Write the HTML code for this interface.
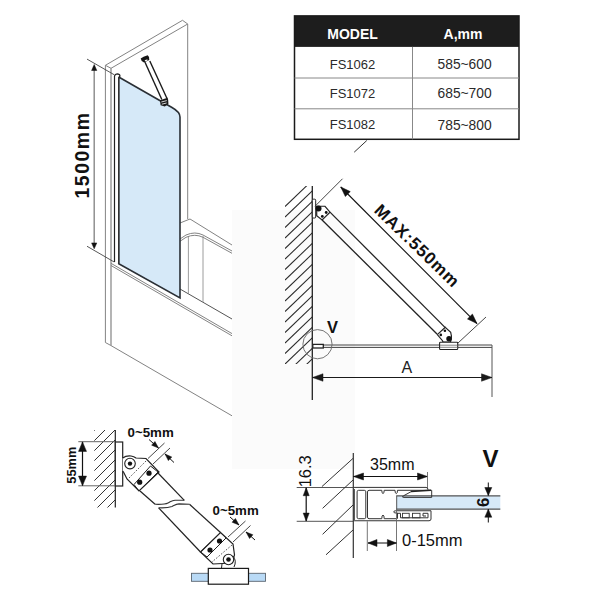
<!DOCTYPE html>
<html><head><meta charset="utf-8"><style>
html,body{margin:0;padding:0;background:#fff;}
svg{display:block;font-family:"Liberation Sans",sans-serif;}
</style></head><body>
<svg width="600" height="600" viewBox="0 0 600 600">
<rect x="0" y="0" width="600" height="600" fill="#fff"/>
<rect x="232" y="210" width="123" height="259" fill="#fbfbfb"/>
<line x1="105.40" y1="65.30" x2="105.40" y2="342.50" stroke="#838383" stroke-width="1" />
<line x1="111.00" y1="68.30" x2="111.00" y2="345.40" stroke="#838383" stroke-width="1.2" />
<polyline points="105.40,65.30 182.50,20.30 187.70,24.00 111.00,68.30 105.40,65.30" fill="none" stroke="#838383" stroke-width="1" />
<line x1="187.70" y1="24.00" x2="187.70" y2="219.00" stroke="#838383" stroke-width="1" />
<polyline points="105.40,342.50 110.70,345.40 232.00,415.80" fill="none" stroke="#838383" stroke-width="1" />
<line x1="111.00" y1="263.30" x2="232.00" y2="333.60" stroke="#838383" stroke-width="1" />
<line x1="111.00" y1="265.50" x2="232.00" y2="335.80" stroke="#838383" stroke-width="1" />
<line x1="180.00" y1="289.00" x2="232.00" y2="319.00" stroke="#555" stroke-width="1" />
<polyline points="180.00,223.00 190.00,219.00 232.00,245.00" fill="none" stroke="#838383" stroke-width="1" />
<path d="M180,239 L186,235 Q195,231 203,235 L232,251" fill="none" stroke="#838383" stroke-width="1"/>
<path d="M180,241.3 L186,237.3 Q195,233.3 203,237.3 L232,253.3" fill="none" stroke="#838383" stroke-width="1"/>
<line x1="188.40" y1="236.00" x2="188.40" y2="294.00" stroke="#838383" stroke-width="0.8" />
<line x1="203.00" y1="236.00" x2="203.00" y2="302.00" stroke="#838383" stroke-width="0.8" />
<path d="M118.7,77 L172,107.5 Q180,112 180,117 L180,298 L118.75,263.75 Z" fill="#d6e9f8" stroke="#2a2f35" stroke-width="1.6"/>
<path d="M114.5,262 L114.5,76 Q115,74 117.2,73.9 Q119.8,74 120,76 L118.7,77.5 L118.7,263" fill="#fff" stroke="#222" stroke-width="1.2"/>
<line x1="144.90" y1="62.00" x2="161.80" y2="99.50" stroke="#1a1a1a" stroke-width="1.4" />
<line x1="149.80" y1="61.00" x2="167.00" y2="98.50" stroke="#1a1a1a" stroke-width="1.4" />
<path d="M140.7,58.6 Q143,56.5 147.7,55.3 Q149.5,56.5 149.3,60 L144,62.6 Q141,61.5 140.7,58.6 Z" fill="#151515"/>
<ellipse cx="146.2" cy="60.3" rx="1.6" ry="0.7" fill="#fff" transform="rotate(-20 146.2 60.3)"/>
<path d="M160,100.2 L167.6,97.8 Q168.6,100 168.4,104 L164.8,106.4 L160.6,105.2 Z" fill="#1a1a1a"/>
<line x1="161.30" y1="102.00" x2="166.80" y2="100.60" stroke="#fff" stroke-width="0.8" />
<line x1="161.80" y1="104.20" x2="166.60" y2="103.00" stroke="#fff" stroke-width="0.8" />
<line x1="94.20" y1="66.00" x2="94.20" y2="247.00" stroke="#888" stroke-width="1.4" />
<polygon points="94.20,64.50 96.80,70.50 91.60,70.50" fill="#111" stroke="#111" stroke-width="0.5" />
<polygon points="94.20,248.75 91.60,242.95 96.80,242.95" fill="#111" stroke="#111" stroke-width="0.5" />
<line x1="87.00" y1="59.10" x2="114.30" y2="74.80" stroke="#444" stroke-width="0.9" />
<line x1="87.00" y1="246.25" x2="114.20" y2="262.00" stroke="#444" stroke-width="0.9" />
<text x="89.30" y="155.00" font-size="19.5" font-weight="bold" text-anchor="middle" fill="#111" transform="rotate(-90 89.30 155.00)" letter-spacing="1.5">1500mm</text>
<rect x="294.5" y="15.9" width="224.5" height="31" fill="#1d1d1d"/>
<rect x="294.5" y="15.9" width="224.5" height="123.4" fill="none" stroke="#1a1a1a" stroke-width="1.5"/>
<line x1="294.50" y1="78.00" x2="519.00" y2="78.00" stroke="#888" stroke-width="1" />
<line x1="294.50" y1="108.80" x2="519.00" y2="108.80" stroke="#888" stroke-width="1" />
<line x1="412.50" y1="46.90" x2="412.50" y2="139.30" stroke="#888" stroke-width="1" />
<text x="352.50" y="39.20" font-size="14" font-weight="bold" text-anchor="middle" fill="#fff" >MODEL</text>
<text x="463.00" y="39.20" font-size="14" font-weight="bold" text-anchor="middle" fill="#fff" >A,mm</text>
<text x="352.50" y="68.80" font-size="13" font-weight="normal" text-anchor="middle" fill="#2a2a2a" >FS1062</text>
<text x="464.60" y="69.10" font-size="13.8" font-weight="normal" text-anchor="middle" fill="#2a2a2a" >585~600</text>
<text x="352.50" y="97.80" font-size="13" font-weight="normal" text-anchor="middle" fill="#2a2a2a" >FS1072</text>
<text x="464.60" y="98.10" font-size="13.8" font-weight="normal" text-anchor="middle" fill="#2a2a2a" >685~700</text>
<text x="352.50" y="129.20" font-size="13" font-weight="normal" text-anchor="middle" fill="#2a2a2a" >FS1082</text>
<text x="464.60" y="129.50" font-size="13.8" font-weight="normal" text-anchor="middle" fill="#2a2a2a" >785~800</text>
<line x1="366.80" y1="140.50" x2="354.20" y2="152.20" stroke="#333" stroke-width="1" />
<clipPath id="h1"><rect x="285" y="186" width="27.30000000000001" height="178"/></clipPath>
<g clip-path="url(#h1)">
<line x1="285.00" y1="206.60" x2="312.30" y2="180.39" stroke="#2a2a2a" stroke-width="1.05" />
<line x1="285.00" y1="217.10" x2="312.30" y2="190.89" stroke="#2a2a2a" stroke-width="1.05" />
<line x1="285.00" y1="227.60" x2="312.30" y2="201.39" stroke="#2a2a2a" stroke-width="1.05" />
<line x1="285.00" y1="238.10" x2="312.30" y2="211.89" stroke="#2a2a2a" stroke-width="1.05" />
<line x1="285.00" y1="248.60" x2="312.30" y2="222.39" stroke="#2a2a2a" stroke-width="1.05" />
<line x1="285.00" y1="259.10" x2="312.30" y2="232.89" stroke="#2a2a2a" stroke-width="1.05" />
<line x1="285.00" y1="269.60" x2="312.30" y2="243.39" stroke="#2a2a2a" stroke-width="1.05" />
<line x1="285.00" y1="280.10" x2="312.30" y2="253.89" stroke="#2a2a2a" stroke-width="1.05" />
<line x1="285.00" y1="290.60" x2="312.30" y2="264.39" stroke="#2a2a2a" stroke-width="1.05" />
<line x1="285.00" y1="301.10" x2="312.30" y2="274.89" stroke="#2a2a2a" stroke-width="1.05" />
<line x1="285.00" y1="311.60" x2="312.30" y2="285.39" stroke="#2a2a2a" stroke-width="1.05" />
<line x1="285.00" y1="322.10" x2="312.30" y2="295.89" stroke="#2a2a2a" stroke-width="1.05" />
<line x1="285.00" y1="332.60" x2="312.30" y2="306.39" stroke="#2a2a2a" stroke-width="1.05" />
<line x1="285.00" y1="343.10" x2="312.30" y2="316.89" stroke="#2a2a2a" stroke-width="1.05" />
<line x1="285.00" y1="353.60" x2="312.30" y2="327.39" stroke="#2a2a2a" stroke-width="1.05" />
<line x1="285.00" y1="364.10" x2="312.30" y2="337.89" stroke="#2a2a2a" stroke-width="1.05" />
<line x1="285.00" y1="374.60" x2="312.30" y2="348.39" stroke="#2a2a2a" stroke-width="1.05" />
<line x1="285.00" y1="385.10" x2="312.30" y2="358.89" stroke="#2a2a2a" stroke-width="1.05" />
<line x1="285.00" y1="395.60" x2="312.30" y2="369.39" stroke="#2a2a2a" stroke-width="1.05" />
</g>
<line x1="312.30" y1="186.00" x2="312.30" y2="400.00" stroke="#222" stroke-width="1.3" />
<rect x="312.3" y="199.2" width="3.4" height="18.8" rx="1" fill="#fff" stroke="#222" stroke-width="1"/>
<line x1="330.00" y1="212.10" x2="445.00" y2="327.40" stroke="#222" stroke-width="1.3" />
<line x1="322.10" y1="220.00" x2="437.00" y2="334.00" stroke="#222" stroke-width="1.3" />
<polygon points="316.70,206.25 325.00,206.25 330.00,212.10 322.10,220.00 316.70,215.80" fill="#fff" stroke="#222" stroke-width="1.2" />
<line x1="330.00" y1="212.10" x2="322.10" y2="220.00" stroke="#333" stroke-width="0.9" stroke-dasharray="1.5,1.5"/>
<circle cx="318.5" cy="208.4" r="3" fill="#111"/>
<circle cx="326.2" cy="212.5" r="1.4" fill="#111"/>
<circle cx="322.3" cy="216.4" r="1.4" fill="#111"/>
<line x1="323.00" y1="345.00" x2="492.00" y2="345.00" stroke="#444" stroke-width="1" />
<line x1="323.00" y1="347.40" x2="492.00" y2="347.40" stroke="#444" stroke-width="1" />
<line x1="492.00" y1="345.00" x2="492.00" y2="397.00" stroke="#555" stroke-width="1" />
<path d="M437.3,334.6 L445.2,327.3 L450.7,332.3 Q451.8,336 451.3,339 L450.5,342 L443,342 L442.5,340.7 Z" fill="#fff" stroke="#222" stroke-width="1.2"/>
<line x1="437.30" y1="334.60" x2="445.20" y2="327.30" stroke="#333" stroke-width="1" stroke-dasharray="1.8,1.2"/>
<circle cx="449" cy="338.7" r="2.7" fill="#111"/>
<circle cx="444.9" cy="330.8" r="1.3" fill="#111"/>
<circle cx="440.8" cy="334.9" r="1.3" fill="#111"/>
<rect x="439.6" y="342.2" width="18.1" height="7.3" rx="0.8" fill="#fff" stroke="#222" stroke-width="1.1"/>
<line x1="440.00" y1="345.20" x2="457.50" y2="345.20" stroke="#777" stroke-width="0.9" />
<line x1="440.00" y1="347.30" x2="457.50" y2="347.30" stroke="#777" stroke-width="0.9" />
<rect x="312.8" y="344.4" width="10.5" height="3.6" fill="#fff" stroke="#222" stroke-width="1.3"/>
<rect x="315" y="345.4" width="3.5" height="1.6" fill="#fff" stroke="none"/>
<circle cx="317.5" cy="344.2" r="14.6" fill="none" stroke="#666" stroke-width="0.9"/>
<text x="327.00" y="333.00" font-size="16.5" font-weight="bold" text-anchor="start" fill="#111" >V</text>
<line x1="312.50" y1="377.50" x2="492.00" y2="377.50" stroke="#1a1a1a" stroke-width="1" />
<polygon points="492.00,377.50 481.50,381.25 481.50,373.75" fill="#1a1a1a" stroke="#1a1a1a" stroke-width="0.5" />
<polygon points="312.50,377.50 323.00,373.75 323.00,381.25" fill="#1a1a1a" stroke="#1a1a1a" stroke-width="0.5" />
<text x="401.50" y="372.80" font-size="16" font-weight="normal" text-anchor="start" fill="#222" >A</text>
<line x1="315.00" y1="206.25" x2="342.50" y2="178.75" stroke="#333" stroke-width="0.9" />
<line x1="458.00" y1="343.00" x2="486.00" y2="317.00" stroke="#333" stroke-width="0.9" />
<line x1="340.75" y1="187.00" x2="477.00" y2="323.60" stroke="#111" stroke-width="1.1" />
<polygon points="477.00,323.60 467.46,318.99 472.42,314.05" fill="#111" stroke="#111" stroke-width="0.5" />
<polygon points="340.75,187.00 350.29,191.61 345.33,196.55" fill="#111" stroke="#111" stroke-width="0.5" />
<text x="413.25" y="250.10" font-size="17" font-weight="bold" text-anchor="middle" fill="#111" transform="rotate(44 413.25 250.10)" letter-spacing="1">MAX:550mm</text>
<clipPath id="h2"><rect x="94.2" y="430" width="20.799999999999997" height="77.5"/></clipPath>
<g clip-path="url(#h2)">
<line x1="94.20" y1="420.80" x2="115.00" y2="400.00" stroke="#333" stroke-width="1.0" />
<line x1="94.20" y1="430.80" x2="115.00" y2="410.00" stroke="#333" stroke-width="1.0" />
<line x1="94.20" y1="440.80" x2="115.00" y2="420.00" stroke="#333" stroke-width="1.0" />
<line x1="94.20" y1="450.80" x2="115.00" y2="430.00" stroke="#333" stroke-width="1.0" />
<line x1="94.20" y1="460.80" x2="115.00" y2="440.00" stroke="#333" stroke-width="1.0" />
<line x1="94.20" y1="470.80" x2="115.00" y2="450.00" stroke="#333" stroke-width="1.0" />
<line x1="94.20" y1="480.80" x2="115.00" y2="460.00" stroke="#333" stroke-width="1.0" />
<line x1="94.20" y1="490.80" x2="115.00" y2="470.00" stroke="#333" stroke-width="1.0" />
<line x1="94.20" y1="500.80" x2="115.00" y2="480.00" stroke="#333" stroke-width="1.0" />
<line x1="94.20" y1="510.80" x2="115.00" y2="490.00" stroke="#333" stroke-width="1.0" />
<line x1="94.20" y1="520.80" x2="115.00" y2="500.00" stroke="#333" stroke-width="1.0" />
<line x1="94.20" y1="530.80" x2="115.00" y2="510.00" stroke="#333" stroke-width="1.0" />
</g>
<line x1="115.30" y1="430.00" x2="115.30" y2="507.50" stroke="#222" stroke-width="1.2" />
<rect x="115.3" y="442" width="7.4" height="44" fill="#fff" stroke="#222" stroke-width="1.2"/>
<line x1="78.30" y1="441.70" x2="115.00" y2="441.70" stroke="#666" stroke-width="1" />
<line x1="78.30" y1="485.80" x2="115.00" y2="485.80" stroke="#666" stroke-width="1" />
<line x1="82.50" y1="441.90" x2="82.50" y2="485.60" stroke="#111" stroke-width="1.2" />
<polygon points="82.50,485.60 78.50,476.10 86.50,476.10" fill="#111" stroke="#111" stroke-width="0.5" />
<polygon points="82.50,441.90 86.50,451.40 78.50,451.40" fill="#111" stroke="#111" stroke-width="0.5" />
<text x="75.60" y="465.20" font-size="12.8" font-weight="bold" text-anchor="middle" fill="#111" transform="rotate(-90 75.60 465.20)" >55mm</text>
<line x1="157.50" y1="472.50" x2="184.30" y2="500.30" stroke="#222" stroke-width="1.2" />
<line x1="140.00" y1="491.00" x2="155.10" y2="504.30" stroke="#222" stroke-width="1.2" />
<line x1="189.50" y1="504.30" x2="220.50" y2="532.50" stroke="#222" stroke-width="1.2" />
<line x1="158.60" y1="507.80" x2="200.50" y2="552.00" stroke="#222" stroke-width="1.2" />
<path d="M155.1,504.3 C160,504.5 165,504.5 168,503 C171,501.5 172,500.3 175,500.2 L184.3,500.3" fill="none" stroke="#333" stroke-width="1.1"/>
<path d="M158.6,507.8 C163,508 168,508 172,506.5 C175,505 176,504 179,503.9 L189.5,504.3" fill="none" stroke="#333" stroke-width="1.1"/>
<path d="M122.7,458 Q126,455.5 131,456 Q134,456.5 136,458 L146,458.5 L159,472 L139,491 L127,479 L123.5,472 L122.7,471" fill="#fff" stroke="#222" stroke-width="1.2"/>
<line x1="146.00" y1="461.00" x2="128.00" y2="479.00" stroke="#444" stroke-width="0.9" stroke-dasharray="1.6,1.6"/>
<polygon points="150.50,466.00 158.00,472.00 139.00,491.00 134.00,484.50" fill="none" stroke="#222" stroke-width="1.0" />
<circle cx="149" cy="473.2" r="2.6" fill="#111"/>
<circle cx="139.7" cy="482.2" r="2.6" fill="#111"/>
<circle cx="130" cy="463.6" r="5.3" fill="#fff" stroke="#222" stroke-width="1.1"/>
<circle cx="130" cy="463.6" r="2.2" fill="#111"/>
<line x1="148.00" y1="458.50" x2="164.50" y2="443.00" stroke="#333" stroke-width="0.9" />
<line x1="153.00" y1="464.00" x2="170.00" y2="448.00" stroke="#333" stroke-width="0.9" />
<line x1="149.00" y1="439.50" x2="158.50" y2="448.00" stroke="#111" stroke-width="1" />
<polygon points="158.50,448.00 151.62,445.20 154.95,441.47" fill="#111" stroke="#111" stroke-width="0.5" />
<line x1="174.00" y1="462.50" x2="165.00" y2="454.00" stroke="#111" stroke-width="1" />
<polygon points="165.00,454.00 171.81,456.99 168.37,460.62" fill="#111" stroke="#111" stroke-width="0.5" />
<text x="127.50" y="437.00" font-size="13.3" font-weight="bold" text-anchor="start" fill="#111" >0~5mm</text>
<path d="M220.5,532.5 L233,544 L234.5,555 L232,563 L213,564 L200.5,552 Z" fill="#fff" stroke="#222" stroke-width="1.2"/>
<line x1="232.00" y1="545.00" x2="212.00" y2="562.00" stroke="#444" stroke-width="0.9" stroke-dasharray="1.6,1.6"/>
<polygon points="220.50,532.50 226.00,538.00 207.00,557.00 200.50,552.00" fill="none" stroke="#222" stroke-width="1.0" />
<circle cx="219.5" cy="541" r="2.6" fill="#111"/>
<circle cx="210" cy="550" r="2.6" fill="#111"/>
<path d="M233,556 Q237,561 234,567" fill="none" stroke="#222" stroke-width="1"/>
<line x1="222.00" y1="564.00" x2="221.50" y2="568.00" stroke="#222" stroke-width="1" />
<circle cx="228.5" cy="559.5" r="5.2" fill="#fff" stroke="#222" stroke-width="1.1"/>
<circle cx="228.5" cy="559.5" r="2.3" fill="#111"/>
<rect x="191.5" y="573.3" width="17" height="8" fill="#b9daf6" stroke="#5a6570" stroke-width="0.9"/>
<rect x="248.5" y="573.3" width="17" height="8" fill="#b9daf6" stroke="#5a6570" stroke-width="0.9"/>
<rect x="208.3" y="568.4" width="40.2" height="15.8" fill="#fff" stroke="#1a1a1a" stroke-width="1.2"/>
<line x1="228.00" y1="537.00" x2="245.50" y2="521.00" stroke="#333" stroke-width="0.9" />
<line x1="233.00" y1="542.00" x2="250.50" y2="525.50" stroke="#333" stroke-width="0.9" />
<line x1="230.00" y1="517.00" x2="239.00" y2="525.00" stroke="#111" stroke-width="1" />
<polygon points="239.00,525.00 232.11,522.22 235.43,518.48" fill="#111" stroke="#111" stroke-width="0.5" />
<line x1="255.00" y1="540.00" x2="246.00" y2="532.00" stroke="#111" stroke-width="1" />
<polygon points="246.00,532.00 252.89,534.78 249.57,538.52" fill="#111" stroke="#111" stroke-width="0.5" />
<text x="212.50" y="515.40" font-size="13.3" font-weight="bold" text-anchor="start" fill="#111" >0~5mm</text>
<text x="311.30" y="471.25" font-size="16.5" font-weight="normal" text-anchor="middle" fill="#111" transform="rotate(-90 311.30 471.25)" >16.3</text>
<line x1="296.70" y1="487.50" x2="353.00" y2="487.50" stroke="#555" stroke-width="1" />
<line x1="296.70" y1="521.30" x2="353.00" y2="521.30" stroke="#555" stroke-width="1" />
<line x1="306.20" y1="487.70" x2="306.20" y2="521.10" stroke="#111" stroke-width="1.2" />
<polygon points="306.20,521.10 303.20,513.10 309.20,513.10" fill="#111" stroke="#111" stroke-width="0.5" />
<polygon points="306.20,487.70 309.20,495.70 303.20,495.70" fill="#111" stroke="#111" stroke-width="0.5" />
<line x1="321.90" y1="486.60" x2="353.00" y2="458.40" stroke="#333" stroke-width="1" />
<line x1="322.60" y1="508.30" x2="353.00" y2="480.00" stroke="#333" stroke-width="1" />
<line x1="322.60" y1="534.30" x2="353.00" y2="505.00" stroke="#333" stroke-width="1" />
<line x1="326.00" y1="554.80" x2="353.00" y2="530.00" stroke="#333" stroke-width="1" />
<line x1="353.30" y1="453.00" x2="353.30" y2="558.00" stroke="#333" stroke-width="1.2" />
<text x="370.00" y="469.60" font-size="16" font-weight="normal" text-anchor="start" fill="#111" >35mm</text>
<line x1="353.50" y1="476.50" x2="427.50" y2="476.50" stroke="#111" stroke-width="1" />
<polygon points="427.50,476.50 417.50,480.00 417.50,473.00" fill="#111" stroke="#111" stroke-width="0.5" />
<polygon points="353.50,476.50 363.50,473.00 363.50,480.00" fill="#111" stroke="#111" stroke-width="0.5" />
<line x1="427.50" y1="472.00" x2="427.50" y2="488.00" stroke="#666" stroke-width="0.9" />
<rect x="396.5" y="495.5" width="103.8" height="14" fill="#d6e9f8" stroke="none"/>
<line x1="396.50" y1="495.80" x2="500.30" y2="495.80" stroke="#555" stroke-width="1.2" />
<line x1="396.70" y1="495.50" x2="396.70" y2="510.00" stroke="#555" stroke-width="1" />
<line x1="396.50" y1="509.20" x2="500.30" y2="509.20" stroke="#555" stroke-width="1.2" />
<path d="M353.5,487.4 H426 Q428,487.4 428,489.8" fill="none" stroke="#333" stroke-width="1"/>
<path d="M369,490.3 H381.8 Q381.8,493.6 383,493.6 Q384.2,493.6 384.2,490.3 H395 Q395,493.6 396.3,493.6 Q397.5,493.6 397.5,490.3 H431.7 V497.4 H404 Q401,497.4 403.5,495.8 L412,491.2" fill="none" stroke="#333" stroke-width="1"/>
<line x1="411.00" y1="491.50" x2="431.00" y2="490.30" stroke="#222" stroke-width="1.5" />
<path d="M369,490.3 Q367.5,490.3 367.5,492 V517 Q367.5,518.7 369,518.7 H381.8 Q381.8,515 383,515 Q384.2,515 384.2,518.7 H396" fill="none" stroke="#333" stroke-width="1"/>
<path d="M353.5,520.75 H429 Q431,520.75 431,519 V510.75 H395.5 Q393.75,510.75 393.75,512 Q393.75,513 396,513 L397.5,513 L397.5,518.7" fill="none" stroke="#333" stroke-width="1"/>
<path d="M397.5,513.3 H400.5 V517.8 H428 V513.3 H423 V516 H426" fill="none" stroke="#333" stroke-width="1"/>
<rect x="402.5" y="513.3" width="6.7" height="4.5" fill="none" stroke="#333" stroke-width="0.9"/>
<rect x="412.5" y="513.3" width="7.5" height="4.5" fill="none" stroke="#333" stroke-width="0.9"/>
<rect x="357.1" y="490.3" width="8.7" height="28.4" rx="1.5" fill="none" stroke="#333" stroke-width="1"/>
<line x1="354.30" y1="489.00" x2="354.30" y2="520.00" stroke="#333" stroke-width="1" />
<line x1="367.30" y1="521.30" x2="367.30" y2="551.00" stroke="#666" stroke-width="0.9" />
<line x1="396.50" y1="509.00" x2="396.50" y2="551.00" stroke="#666" stroke-width="0.9" />
<line x1="368.00" y1="543.00" x2="396.40" y2="543.00" stroke="#111" stroke-width="1" />
<polygon points="396.40,543.00 387.40,546.50 387.40,539.50" fill="#111" stroke="#111" stroke-width="0.5" />
<polygon points="368.00,543.00 377.00,539.50 377.00,546.50" fill="#111" stroke="#111" stroke-width="0.5" />
<text x="402.00" y="546.00" font-size="16.5" font-weight="normal" text-anchor="start" fill="#111" >0-15mm</text>
<text x="482.50" y="467.00" font-size="24" font-weight="bold" text-anchor="start" fill="#111" >V</text>
<line x1="488.30" y1="482.50" x2="488.30" y2="495.50" stroke="#111" stroke-width="1" />
<polygon points="488.30,495.50 484.80,487.50 491.80,487.50" fill="#111" stroke="#111" stroke-width="0.5" />
<line x1="488.30" y1="509.20" x2="488.30" y2="522.50" stroke="#111" stroke-width="1" />
<polygon points="488.30,509.20 491.80,517.20 484.80,517.20" fill="#111" stroke="#111" stroke-width="0.5" />
<text x="488.80" y="502.40" font-size="16.8" font-weight="bold" text-anchor="middle" fill="#111" transform="rotate(-90 488.80 502.40)" >6</text>
</svg></body></html>
